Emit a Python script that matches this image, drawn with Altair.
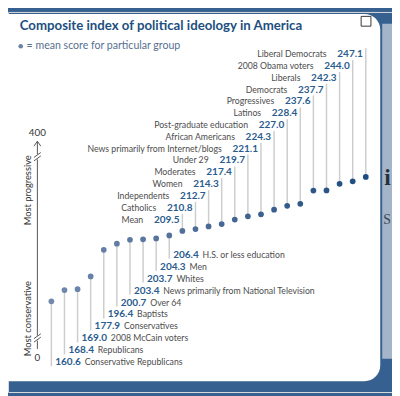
import altair as alt
import pandas as pd

# ---------------- data ----------------
groups = [
    "Conservative Republicans", "Republicans", "2008 McCain voters", "Conservatives",
    "Baptists", "Over 64", "News primarily from National Television", "Whites", "Men",
    "H.S. or less education", "Mean", "Catholics", "Independents", "Women", "Moderates",
    "Under 29", "News primarily from Internet/blogs", "African Americans",
    "Post-graduate education", "Latinos", "Progressives", "Democrats", "Liberals",
    "2008 Obama voters", "Liberal Democrats",
]
scores = [
    160.6, 168.4, 169.0, 177.9, 196.4, 200.7, 203.4, 203.7, 204.3, 206.4,
    209.5, 210.8, 212.7, 214.3, 217.4, 219.7, 221.1, 224.3, 227.0, 228.4,
    237.6, 237.7, 242.3, 244.0, 247.1,
]
axis_tick_labels = ["0", "400"]
axis_side_titles = ["Most conservative", "Most progressive"]
title_text = "Composite index of political ideology in America"
legend_text = "= mean score for particular group"
ghost_letters = ["i", "S"]

# ---------------- layout ----------------
W, H = 392, 388
Y_DOMAIN = [97.5, 361.8]
X_DOMAIN = [-3.31, 26.0]
N_BELOW = 10
FONT = "Lato"
NAVY = "#1d4f7f"
VAL_COLOR = "#2a5c8e"
NAME_COLOR = "#4d4d4d"


def px_to_val(px):
    return Y_DOMAIN[0] + (H - px) * (Y_DOMAIN[1] - Y_DOMAIN[0]) / H


rows = []
for i, (g, s) in enumerate(zip(groups, scores)):
    if i < N_BELOW:
        lab_px = 357.7 - 12.2 * i
        end_px = lab_px + 4
        side = "below"
    else:
        lab_px = 212.0 - 12.07 * (i - N_BELOW)
        end_px = lab_px - 6
        side = "above"
    rows.append(dict(idx=i, group=g, score=s, vtxt=f"{s:.1f}",
                     label_v=px_to_val(lab_px), end_v=px_to_val(end_px), side=side))
df = pd.DataFrame(rows)

xs = alt.Scale(domain=X_DOMAIN, nice=False, zero=False)
ys = alt.Scale(domain=Y_DOMAIN, nice=False, zero=False)
X = alt.X("idx:Q", scale=xs, axis=None)

base = alt.Chart(df)

# decorations
one = pd.DataFrame({"k": [0]})
deco = alt.Chart(one)
strip = deco.mark_rect(color="#a4b5ca").encode(
    x=alt.value(382), x2=alt.value(400), y=alt.value(12), y2=alt.value(354))
ghost = [
    deco.mark_text(align="left", baseline="alphabetic", font="Liberation Serif",
                   fontSize=24, fontWeight="bold", color="#28303c").encode(
        x=alt.value(384), y=alt.value(177), text=alt.value(ghost_letters[0])),
    deco.mark_text(align="left", baseline="alphabetic", font="Liberation Serif",
                   fontSize=14, color="#3a4450").encode(
        x=alt.value(383), y=alt.value(216), text=alt.value(ghost_letters[1])),
]
card = deco.mark_rect(color="white", cornerRadius=16).encode(
    x=alt.value(-20), x2=alt.value(380), y=alt.value(2), y2=alt.value(377))
checkbox = deco.mark_rect(fill="white", stroke="#333333", strokeWidth=1).encode(
    x=alt.value(360.5), x2=alt.value(370.5), y=alt.value(4.5), y2=alt.value(14.5))
title = deco.mark_text(align="left", baseline="middle", font=FONT, fontSize=13.5,
                       fontWeight="bold", color=NAVY).encode(
    x=alt.value(12), y=alt.value(14), text=alt.value(title_text))
leg_dot = deco.mark_circle(color="#6a84a8", size=22, opacity=1).encode(
    x=alt.value(13), y=alt.value(35))
leg_txt = deco.mark_text(align="left", baseline="middle", font=FONT, fontSize=10.8,
                         color="#566f90").encode(
    x=alt.value(19), y=alt.value(35), text=alt.value(legend_text))

AX = 30
AXC = "#555555"
axis_parts = []
for y1, y2 in [(132, 145.5), (150.5, 330.5), (335.5, 344)]:
    axis_parts.append(deco.mark_rule(color=AXC, strokeWidth=1).encode(
        x=alt.value(AX), y=alt.value(y1), y2=alt.value(y2)))
for yb in [146, 149.5, 331, 334.5]:
    axis_parts.append(deco.mark_rule(color=AXC, strokeWidth=1).encode(
        x=alt.value(AX - 3.5), x2=alt.value(AX + 3.5),
        y=alt.value(yb + 2.5), y2=alt.value(yb - 2.5)))
axis_parts.append(deco.mark_rule(color=AXC, strokeWidth=1).encode(
    x=alt.value(AX - 3.5), x2=alt.value(AX), y=alt.value(137), y2=alt.value(132)))
axis_parts.append(deco.mark_rule(color=AXC, strokeWidth=1).encode(
    x=alt.value(AX + 3.5), x2=alt.value(AX), y=alt.value(137), y2=alt.value(132)))
tick_lab = [
    deco.mark_text(font=FONT, fontSize=10, color="#333333", baseline="middle").encode(
        x=alt.value(AX), y=alt.value(353), text=alt.value(axis_tick_labels[0])),
    deco.mark_text(font=FONT, fontSize=10, color="#333333", baseline="middle").encode(
        x=alt.value(AX), y=alt.value(124), text=alt.value(axis_tick_labels[1])),
]
side_lab = [
    deco.mark_text(font=FONT, fontSize=9.5, color="#333333", angle=270,
                   baseline="middle").encode(
        x=alt.value(20), y=alt.value(313), text=alt.value(axis_side_titles[0])),
    deco.mark_text(font=FONT, fontSize=9.5, color="#333333", angle=270,
                   baseline="middle").encode(
        x=alt.value(20), y=alt.value(182), text=alt.value(axis_side_titles[1])),
]

# data marks
leaders = base.mark_rule(color="#cdcdcd", strokeWidth=1.5).encode(
    x=X, y=alt.Y("score:Q", scale=ys, axis=None), y2="end_v:Q")
points = base.mark_circle(size=34, opacity=1).encode(
    x=X, y=alt.Y("score:Q", scale=ys, axis=None),
    color=alt.Color("idx:Q", scale=alt.Scale(range=["#7189ad", "#1c4d7f"]), legend=None))

below = base.transform_filter(alt.datum.side == "below")
above = base.transform_filter(alt.datum.side == "above")
LY = alt.Y("label_v:Q", scale=ys, axis=None)
b_val = below.mark_text(align="left", baseline="middle", dx=4, font=FONT, fontSize=10.2,
                        fontWeight="bold", color=VAL_COLOR).encode(x=X, y=LY, text="vtxt:N")
b_name = below.mark_text(align="left", baseline="middle", dx=34, font=FONT, fontSize=8.9,
                         color=NAME_COLOR).encode(x=X, y=LY, text="group:N")
a_val = above.mark_text(align="right", baseline="middle", dx=-3, font=FONT, fontSize=10.2,
                        fontWeight="bold", color=VAL_COLOR).encode(x=X, y=LY, text="vtxt:N")
a_name = above.mark_text(align="right", baseline="middle", dx=-40, font=FONT, fontSize=8.9,
                         color=NAME_COLOR).encode(x=X, y=LY, text="group:N")

chart = alt.layer(
    strip, *ghost, card, checkbox, title, leg_dot, leg_txt, *axis_parts, *tick_lab,
    *side_lab, leaders, points, b_val, b_name, a_val, a_name,
).properties(
    width=W, height=H, padding=0,
    autosize=alt.AutoSizeParams(type="none"),
).configure_view(stroke=None).configure(background="#35608f")

chart.save("out.html", embed_options={"renderer": "svg", "actions": False})
